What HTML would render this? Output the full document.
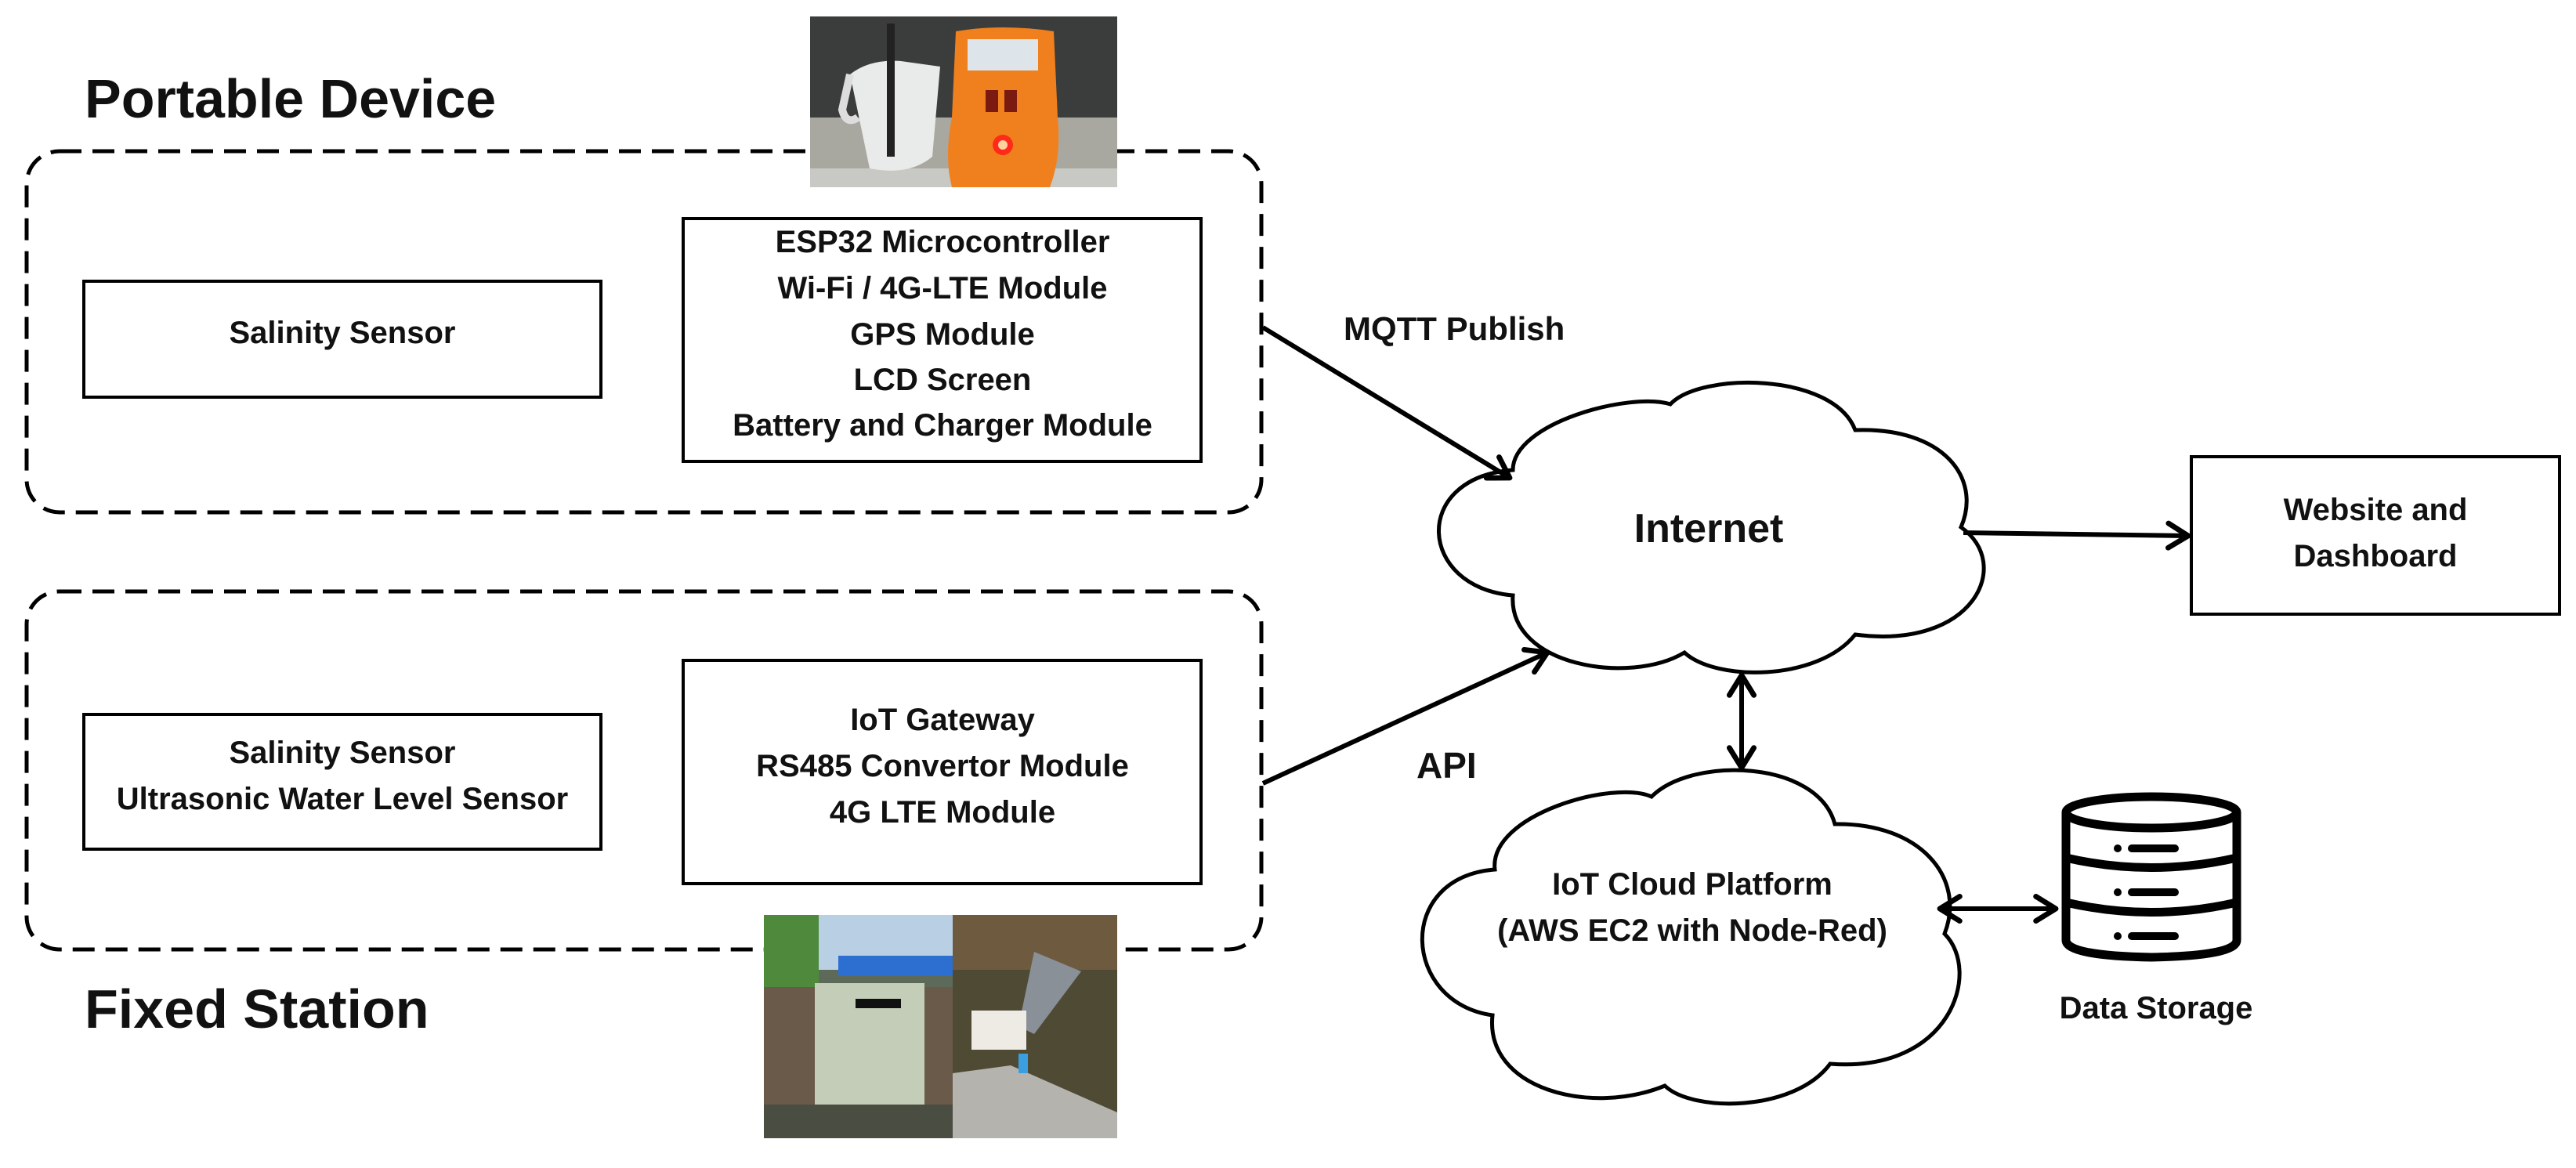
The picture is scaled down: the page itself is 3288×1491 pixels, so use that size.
<!DOCTYPE html>
<html><head><meta charset="utf-8"><style>
html,body{margin:0;padding:0;background:#fff}
svg{display:block}
text{font-family:"Liberation Sans",sans-serif;font-weight:bold;fill:#111}
</style></head><body>
<svg width="3288" height="1491" viewBox="0 0 3288 1491" xmlns="http://www.w3.org/2000/svg">
<defs>
<marker id="ah" viewBox="0 0 20 20" refX="17" refY="10" markerWidth="6.5" markerHeight="6.5" orient="auto-start-reverse" markerUnits="strokeWidth">
<polyline points="4,2 17,10 4,18" fill="none" stroke="#000" stroke-width="3.5" stroke-linecap="round" stroke-linejoin="round"/>
</marker>
</defs>

<text x="108" y="150" font-size="70">Portable Device</text>
<text x="108" y="1312" font-size="70">Fixed Station</text>

<rect x="34" y="193" width="1576" height="461" rx="42" fill="none" stroke="#000" stroke-width="5" stroke-dasharray="28 14"/>
<rect x="34" y="755" width="1576" height="457" rx="42" fill="none" stroke="#000" stroke-width="5" stroke-dasharray="28 14"/>

<g>
<rect x="1034" y="21" width="392" height="218" fill="#3b3d3c"/>
<rect x="1034" y="150" width="392" height="89" fill="#a9a8a0"/>
<rect x="1034" y="215" width="392" height="24" fill="#c8c9c4"/>
<path d="M1085,95 Q1110,75 1150,78 L1200,85 L1190,200 Q1160,225 1110,215 Z" fill="#e9ebea"/>
<path d="M1085,95 L1075,140 Q1080,160 1095,150" fill="none" stroke="#ddd" stroke-width="10"/>
<rect x="1132" y="30" width="10" height="170" fill="#222"/>
<path d="M1220,40 Q1280,30 1345,40 L1350,150 Q1355,200 1340,239 L1215,239 Q1205,200 1215,150 Z" fill="#f0801d"/>
<rect x="1235" y="50" width="90" height="40" fill="#dde4ea"/>
<rect x="1258" y="115" width="16" height="28" fill="#7a1a10"/>
<rect x="1282" y="115" width="16" height="28" fill="#7a1a10"/>
<circle cx="1280" cy="185" r="13" fill="#ff2a1a"/>
<circle cx="1280" cy="185" r="6" fill="#ffd0a0"/>
</g>

<g>
<rect x="975" y="1168" width="241" height="285" fill="#5d6a5a"/>
<rect x="975" y="1168" width="241" height="70" fill="#b9cfe3"/>
<rect x="975" y="1168" width="70" height="110" fill="#4f8a3c"/>
<rect x="1070" y="1220" width="146" height="25" fill="#2d6fd0"/>
<rect x="975" y="1260" width="241" height="150" fill="#6a5a4a"/>
<rect x="1040" y="1255" width="140" height="170" fill="#c4cdb8"/>
<rect x="1092" y="1275" width="58" height="12" fill="#111"/>
<rect x="975" y="1410" width="241" height="43" fill="#4a4e42"/>
<rect x="1216" y="1168" width="210" height="285" fill="#4e4a34"/>
<rect x="1216" y="1168" width="210" height="70" fill="#6e5a3e"/>
<path d="M1320,1215 L1380,1240 L1320,1320 L1300,1310 Z" fill="#8a9098"/>
<rect x="1240" y="1290" width="70" height="50" fill="#eeeae4"/>
<path d="M1216,1370 L1290,1360 L1426,1420 L1426,1453 L1216,1453 Z" fill="#b5b3ad"/>
<rect x="1300" y="1345" width="12" height="25" fill="#3a9ee0"/>
</g>

<g fill="#fff" stroke="#000" stroke-width="4">
<rect x="107" y="359" width="660" height="148"/>
<rect x="872" y="279" width="661" height="310"/>
<rect x="107" y="912" width="660" height="172"/>
<rect x="872" y="843" width="661" height="285"/>
<rect x="2797" y="583" width="470" height="201"/>
</g>

<g font-size="40" text-anchor="middle">
<text x="437" y="438">Salinity Sensor</text>
<text x="1203" y="322">ESP32 Microcontroller</text>
<text x="1203" y="381">Wi-Fi / 4G-LTE Module</text>
<text x="1203" y="440">GPS Module</text>
<text x="1203" y="498">LCD Screen</text>
<text x="1203" y="556">Battery and Charger Module</text>
<text x="437" y="974">Salinity Sensor</text>
<text x="437" y="1033">Ultrasonic Water Level Sensor</text>
<text x="1203" y="932">IoT Gateway</text>
<text x="1203" y="991">RS485 Convertor Module</text>
<text x="1203" y="1050">4G LTE Module</text>
<text x="3032" y="664">Website and</text>
<text x="3032" y="723">Dashboard</text>
<text x="2160" y="1142">IoT Cloud Platform</text>
<text x="2160" y="1201">(AWS EC2 with Node-Red)</text>
<text x="2752" y="1300">Data Storage</text>
</g>
<text x="1715" y="434" font-size="42">MQTT Publish</text>
<text x="1808" y="993" font-size="46">API</text>

<path d="M1931,600 C1931,540 2080,500 2132,516 C2170,475 2340,475 2368,549 C2480,545 2530,610 2503,673 C2570,720 2520,830 2368,810 C2320,870 2190,870 2150,833 C2080,875 1925,850 1931,760 C1810,750 1800,610 1931,600 Z" fill="#fff" stroke="#000" stroke-width="5"/>
<text x="2181" y="692" font-size="52" text-anchor="middle">Internet</text>
<path d="M1908,1110 C1900,1040 2060,995 2108,1017 C2160,965 2320,970 2342,1052 C2450,1050 2510,1120 2482,1192 C2530,1240 2490,1370 2336,1358 C2290,1420 2160,1420 2125,1386 C2030,1425 1895,1390 1905,1296 C1790,1280 1780,1120 1908,1110 Z" fill="none" stroke="#000" stroke-width="5"/>

<g stroke="#000" stroke-width="6" fill="none">
<line x1="1612" y1="418" x2="1927" y2="610" marker-end="url(#ah)"/>
<line x1="1612" y1="1000" x2="1975" y2="833" marker-end="url(#ah)"/>
<line x1="2506" y1="680" x2="2793" y2="684" marker-end="url(#ah)"/>
<line x1="2223" y1="862" x2="2223" y2="980" marker-start="url(#ah)" marker-end="url(#ah)"/>
<line x1="2476" y1="1160" x2="2624" y2="1160" marker-start="url(#ah)" marker-end="url(#ah)"/>
</g>

<g stroke="#000" stroke-width="11" fill="#fff">
<path d="M2637,1037 L2637,1200 Q2637,1220 2746,1222 Q2855,1220 2855,1200 L2855,1037"/>
<ellipse cx="2746" cy="1037" rx="109" ry="20"/>
<path d="M2637,1095 Q2746,1120 2855,1095" fill="none"/>
<path d="M2637,1152 Q2746,1177 2855,1152" fill="none"/>
<g stroke-linecap="round" stroke-width="10">
<line x1="2703" y1="1083" x2="2703" y2="1083"/><line x1="2721" y1="1083" x2="2776" y2="1083"/>
<line x1="2703" y1="1139" x2="2703" y2="1139"/><line x1="2721" y1="1139" x2="2776" y2="1139"/>
<line x1="2703" y1="1195" x2="2703" y2="1195"/><line x1="2721" y1="1195" x2="2776" y2="1195"/>
</g>
</g>
</svg>
</body></html>
